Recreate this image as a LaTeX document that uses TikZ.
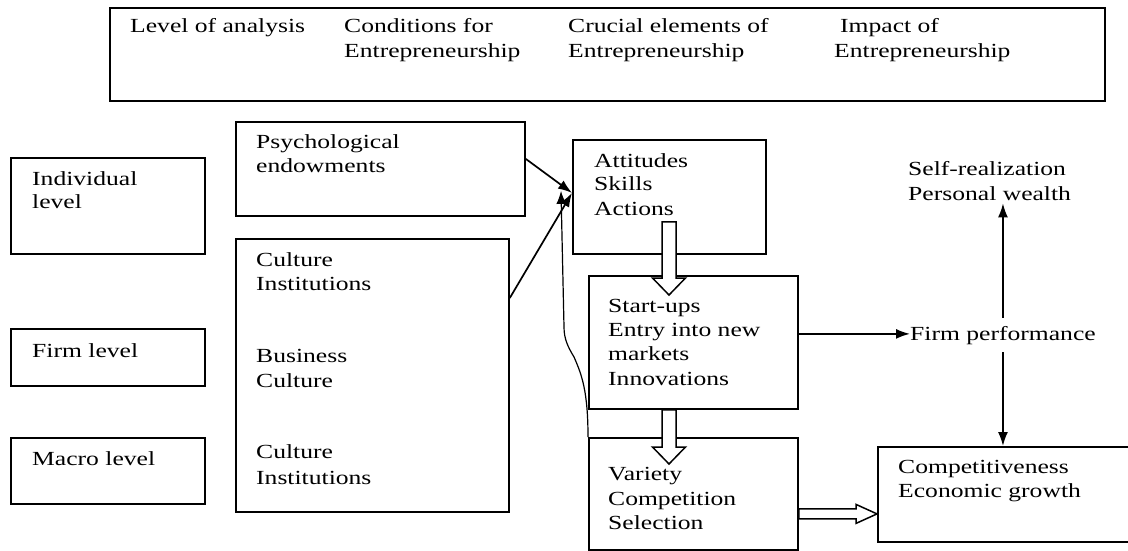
\documentclass[tikz,border=0pt]{standalone}
\usepackage{fontspec}
\setmainfont{Liberation Serif}[FakeStretch=1.28]
\usetikzlibrary{arrows.meta,calc}
\tikzset{
  box/.style={draw, rectangle, line width=1.8pt, inner sep=0pt, anchor=north west},
  lbl/.style={anchor=base west, inner sep=0pt, font=\fontsize{20}{24}\selectfont},
  arr/.style={-{Latex[length=14pt,width=10pt]}, line width=1.7pt},
  thinarr/.style={-{Latex[length=13pt,width=10pt]}, line width=1.2pt},
  hollow/.style={draw, fill=white, line width=1.5pt, line join=miter}
}
\newcommand\hollowdown[2]{%
  \path[hollow] let \p1=#1, \p2=#2 in
    (\x1-7pt,\y1) -- (\x1+7pt,\y1) -- (\x1+7pt,\y2+17pt) -- (\x1+16.5pt,\y2+17pt)
    -- (\x1,\y2) -- (\x1-16.5pt,\y2+17pt) -- (\x1-7pt,\y2+17pt) -- cycle;}
\newcommand\hollowright[2]{%
  \path[hollow] let \p1=#1, \p2=#2 in
    (\x1,\y1+5pt) -- (\x2-21pt,\y1+5pt) -- (\x2-21pt,\y1+9.5pt) -- (\x2,\y1)
    -- (\x2-21pt,\y1-9.5pt) -- (\x2-21pt,\y1-5pt) -- (\x1,\y1-5pt) -- cycle;}
\begin{document}
\begin{tikzpicture}[x=1pt,y=-1pt]
\useasboundingbox (0,0) rectangle (1128,551);
\clip (0,0) rectangle (1128,551);
% header box
\node[box, line width=2.4pt, minimum width=995pt, minimum height=93pt] (top) at (109,7) {};
\node[lbl] (h1) at (130,33) {Level of analysis};
\node[lbl] (h2a) at (344,33) {Conditions for};
\node[lbl] (h2b) at (344,58) {Entrepreneurship};
\node[lbl] (h3a) at (568,33) {Crucial elements of};
\node[lbl] (h3b) at (568,58) {Entrepreneurship};
\node[lbl] (h4a) at (840,33) {Impact of};
\node[lbl] (h4b) at (834,58) {Entrepreneurship};
% level boxes
\node[box, minimum width=194pt, minimum height=96pt] (ind) at (10,157) {};
\node[lbl] (ind1) at (32,185) {Individual};
\node[lbl] (ind2) at (32,208) {level};
\node[box, minimum width=194pt, minimum height=57pt] (firm) at (10,328) {};
\node[lbl] (firm1) at (32,357) {Firm level};
\node[box, minimum width=194pt, minimum height=66pt] (macro) at (10,437) {};
\node[lbl] (macro1) at (32,465) {Macro level};
% conditions
\node[box, minimum width=289pt, minimum height=94pt] (psych) at (235,121) {};
\node[lbl] (ps1) at (256,148) {Psychological};
\node[lbl] (ps2) at (256,172) {endowments};
\node[box, minimum width=273pt, minimum height=273pt] (cult) at (235,238) {};
\node[lbl] (cu1) at (256,266) {Culture};
\node[lbl] (cu2) at (256,290) {Institutions};
\node[lbl] (cu3) at (256,362) {Business};
\node[lbl] (cu4) at (256,387) {Culture};
\node[lbl] (cu5) at (256,458) {Culture};
\node[lbl] (cu6) at (256,484) {Institutions};
% crucial elements
\node[box, minimum width=193pt, minimum height=114pt] (att) at (572,139) {};
\node[lbl] (at1) at (594,167) {Attitudes};
\node[lbl] (at2) at (594,190) {Skills};
\node[lbl] (at3) at (594,215) {Actions};
\node[box, minimum width=209pt, minimum height=133pt] (start) at (588,275) {};
\node[lbl] (st1) at (608,312) {Start-ups};
\node[lbl] (st2) at (608,336) {Entry into new};
\node[lbl] (st3) at (608,360) {markets};
\node[lbl] (st4) at (608,385) {Innovations};
\node[box, minimum width=209pt, minimum height=112pt] (var) at (588,437) {};
\node[lbl] (va1) at (608,480) {Variety};
\node[lbl] (va2) at (608,505) {Competition};
\node[lbl] (va3) at (608,529) {Selection};
% impact
\node[lbl] (sr1) at (908,175) {Self-realization};
\node[lbl] (sr2) at (908,200) {Personal wealth};
\node[lbl] (fp) at (910,340) {Firm performance};
\node[box, minimum width=262pt, minimum height=95pt] (comp) at (877,446) {};
\node[lbl] (co1) at (898,473) {Competitiveness};
\node[lbl] (co2) at (898,497) {Economic growth};
% connectors into Attitudes
\coordinate (hub) at ($(att.west)+(0,-4)$);
\coordinate (ctip) at ($(att.west)+(-11,-6)$);
\draw[arr] ($(psych.east)+(0,-10)$) -- (hub);
\draw[arr] ($(cult.north east)+(0,60)$) -- (hub);
\draw[thinarr] (var.north west) .. controls ($(var.north west)+(0,-45)$) and ($(var.north west)+(-6,-62)$) .. ($(var.north west)+(-14,-80)$)
  .. controls ($(var.north west)+(-20,-90)$) and ($(var.north west)+(-24,-98)$) .. ($(var.north west)+(-24,-110)$) -- (ctip);
% hollow arrows
\coordinate (ha1) at ($(att.south west)+(97,-33)$);
\coordinate (hb1) at ($(ha1 |- start.north)+(0,20)$);
\hollowdown{(ha1)}{(hb1)}
\coordinate (ha2) at (ha1 |- start.south);
\coordinate (hb2) at ($(ha1 |- var.north)+(0,27)$);
\hollowdown{(ha2)}{(hb2)}
\coordinate (ha3) at ($(var.east)+(0,20)$);
\coordinate (hb3) at (ha3 -| comp.west);
\hollowright{(ha3)}{(hb3)}
% impact arrows
\coordinate (fpa) at ($(start.east)+(0,-8.5)$);
\draw[arr] (fpa) -- (fpa -| fp.west);
\draw[arr] ($(fp.north)+(0,-8)$) -- ($(fp.north |- sr2.south)+(0,3)$);
\draw[arr] ($(fp.south)+(0,8)$) -- (fp.south |- comp.north);
\end{tikzpicture}
\end{document}
